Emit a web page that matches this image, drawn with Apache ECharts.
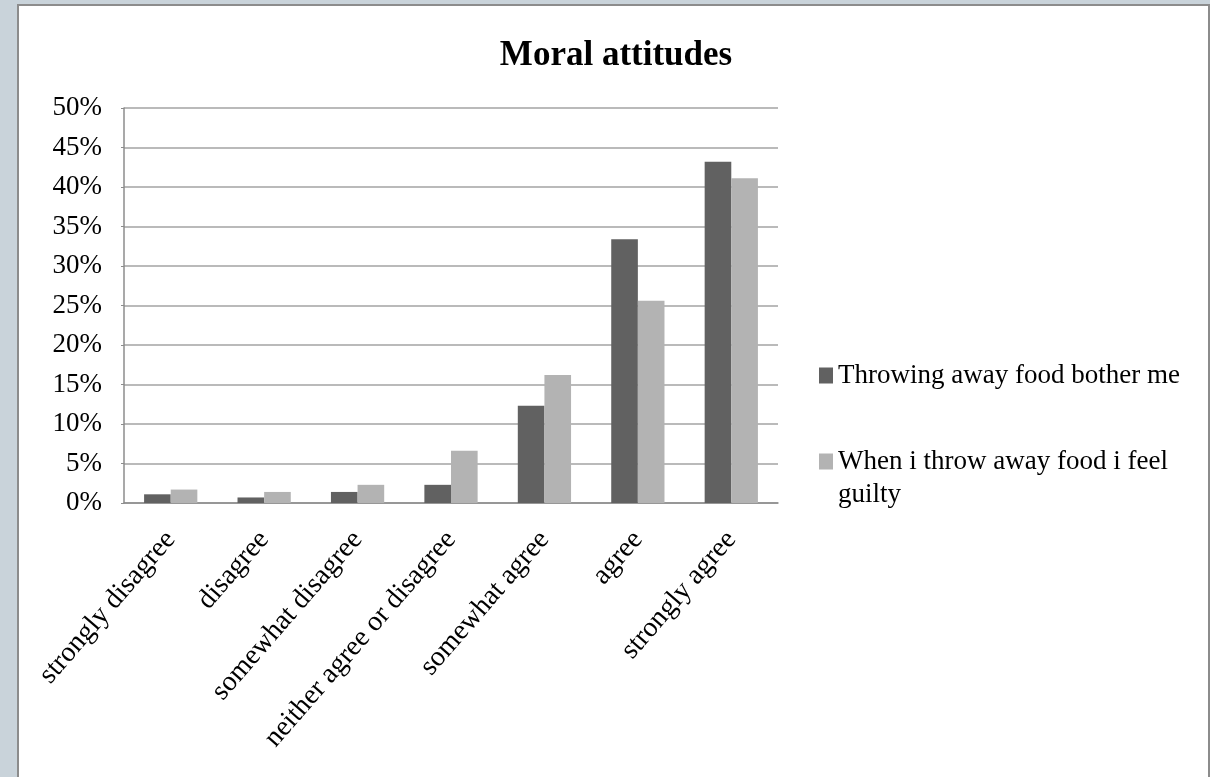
<!DOCTYPE html>
<html>
<head>
<meta charset="utf-8">
<script src="https://cdn.jsdelivr.net/npm/echarts@6/dist/echarts.min.js"></script>
<style>
  html, body { margin: 0; padding: 0; background: #c9d3da; overflow: hidden; }
  #frame {
    position: absolute; left: 17px; top: 4px; width: 1189px; height: 800px;
    background: #fff; border: 2px solid #8c8c8c;
  }
  #chart { position: absolute; left: 0; top: 0; width: 1210px; height: 777px; }
</style>
</head>
<body>
<div id="frame"></div>
<div id="chart"></div>
<script>
const categories = [
  "strongly disagree",
  "disagree",
  "somewhat disagree",
  "neither agree or disagree",
  "somewhat agree",
  "agree",
  "strongly agree",
];
const seriesNames = [
  "Throwing away food bother me",
  "When i throw away food i feel guilty",
];
// percent of respondents
const botherValues = [1.1, 0.7, 1.4, 2.3, 12.3, 33.4, 43.2];
const guiltyValues = [1.7, 1.4, 2.3, 6.6, 16.2, 25.6, 41.1];

const FONT = "'Liberation Serif', 'Times New Roman', serif";
const chart = echarts.init(document.getElementById("chart"));

// square at the top of a taller box, so the wrapped legend text starts level with it
const topSquare = "path://M0,0H14V16H0Z M0,49L14,49";

chart.setOption({
  animation: false,
  backgroundColor: "transparent",
  title: {
    text: "Moral attitudes",
    left: 611,
    top: 33,
    textAlign: "center",
    textStyle: { fontFamily: FONT, fontSize: 35, fontWeight: "bold", color: "#000" },
  },
  grid: { left: 124, right: 432, top: 108, bottom: 274, containLabel: false },
  legend: [
    {
      orient: "vertical",
      left: 819,
      top: 362,
      padding: 0,
      data: [seriesNames[0]],
      itemWidth: 14,
      itemHeight: 16,
      itemGap: 7,
      icon: "rect",
      textStyle: { fontFamily: FONT, fontSize: 27, color: "#000" },
    },
    {
      orient: "vertical",
      left: 819,
      top: 445,
      padding: 0,
      data: [seriesNames[1]],
      itemWidth: 14,
      itemHeight: 49,
      icon: topSquare,
      textStyle: {
        fontFamily: FONT,
        fontSize: 27,
        color: "#000",
        width: 350,
        overflow: "break",
        lineHeight: 33,
      },
    },
  ],
  xAxis: {
    type: "category",
    data: categories,
    axisLine: { lineStyle: { color: "#8c8c8c", width: 1.5 } },
    axisTick: { show: false },
    axisLabel: {
      interval: 0,
      rotate: 49,
      margin: 32,
      fontFamily: FONT,
      fontSize: 28,
      color: "#000",
    },
  },
  yAxis: {
    type: "value",
    min: 0,
    max: 50,
    interval: 5,
    axisLine: { show: true, lineStyle: { color: "#8c8c8c", width: 1.5 } },
    axisTick: { show: true, length: 3, lineStyle: { color: "#8c8c8c" } },
    splitLine: { lineStyle: { color: "#a3a3a3", width: 1.5 } },
    axisLabel: {
      formatter: "{value}%",
      margin: 22,
      fontFamily: FONT,
      fontSize: 27,
      color: "#000",
    },
  },
  series: [
    {
      name: seriesNames[0],
      type: "bar",
      data: botherValues,
      barGap: "0%",
      barCategoryGap: "43%",
      itemStyle: { color: "#616161" },
    },
    {
      name: seriesNames[1],
      type: "bar",
      data: guiltyValues,
      itemStyle: { color: "#b3b3b3" },
    },
  ],
});
</script>
</body>
</html>
